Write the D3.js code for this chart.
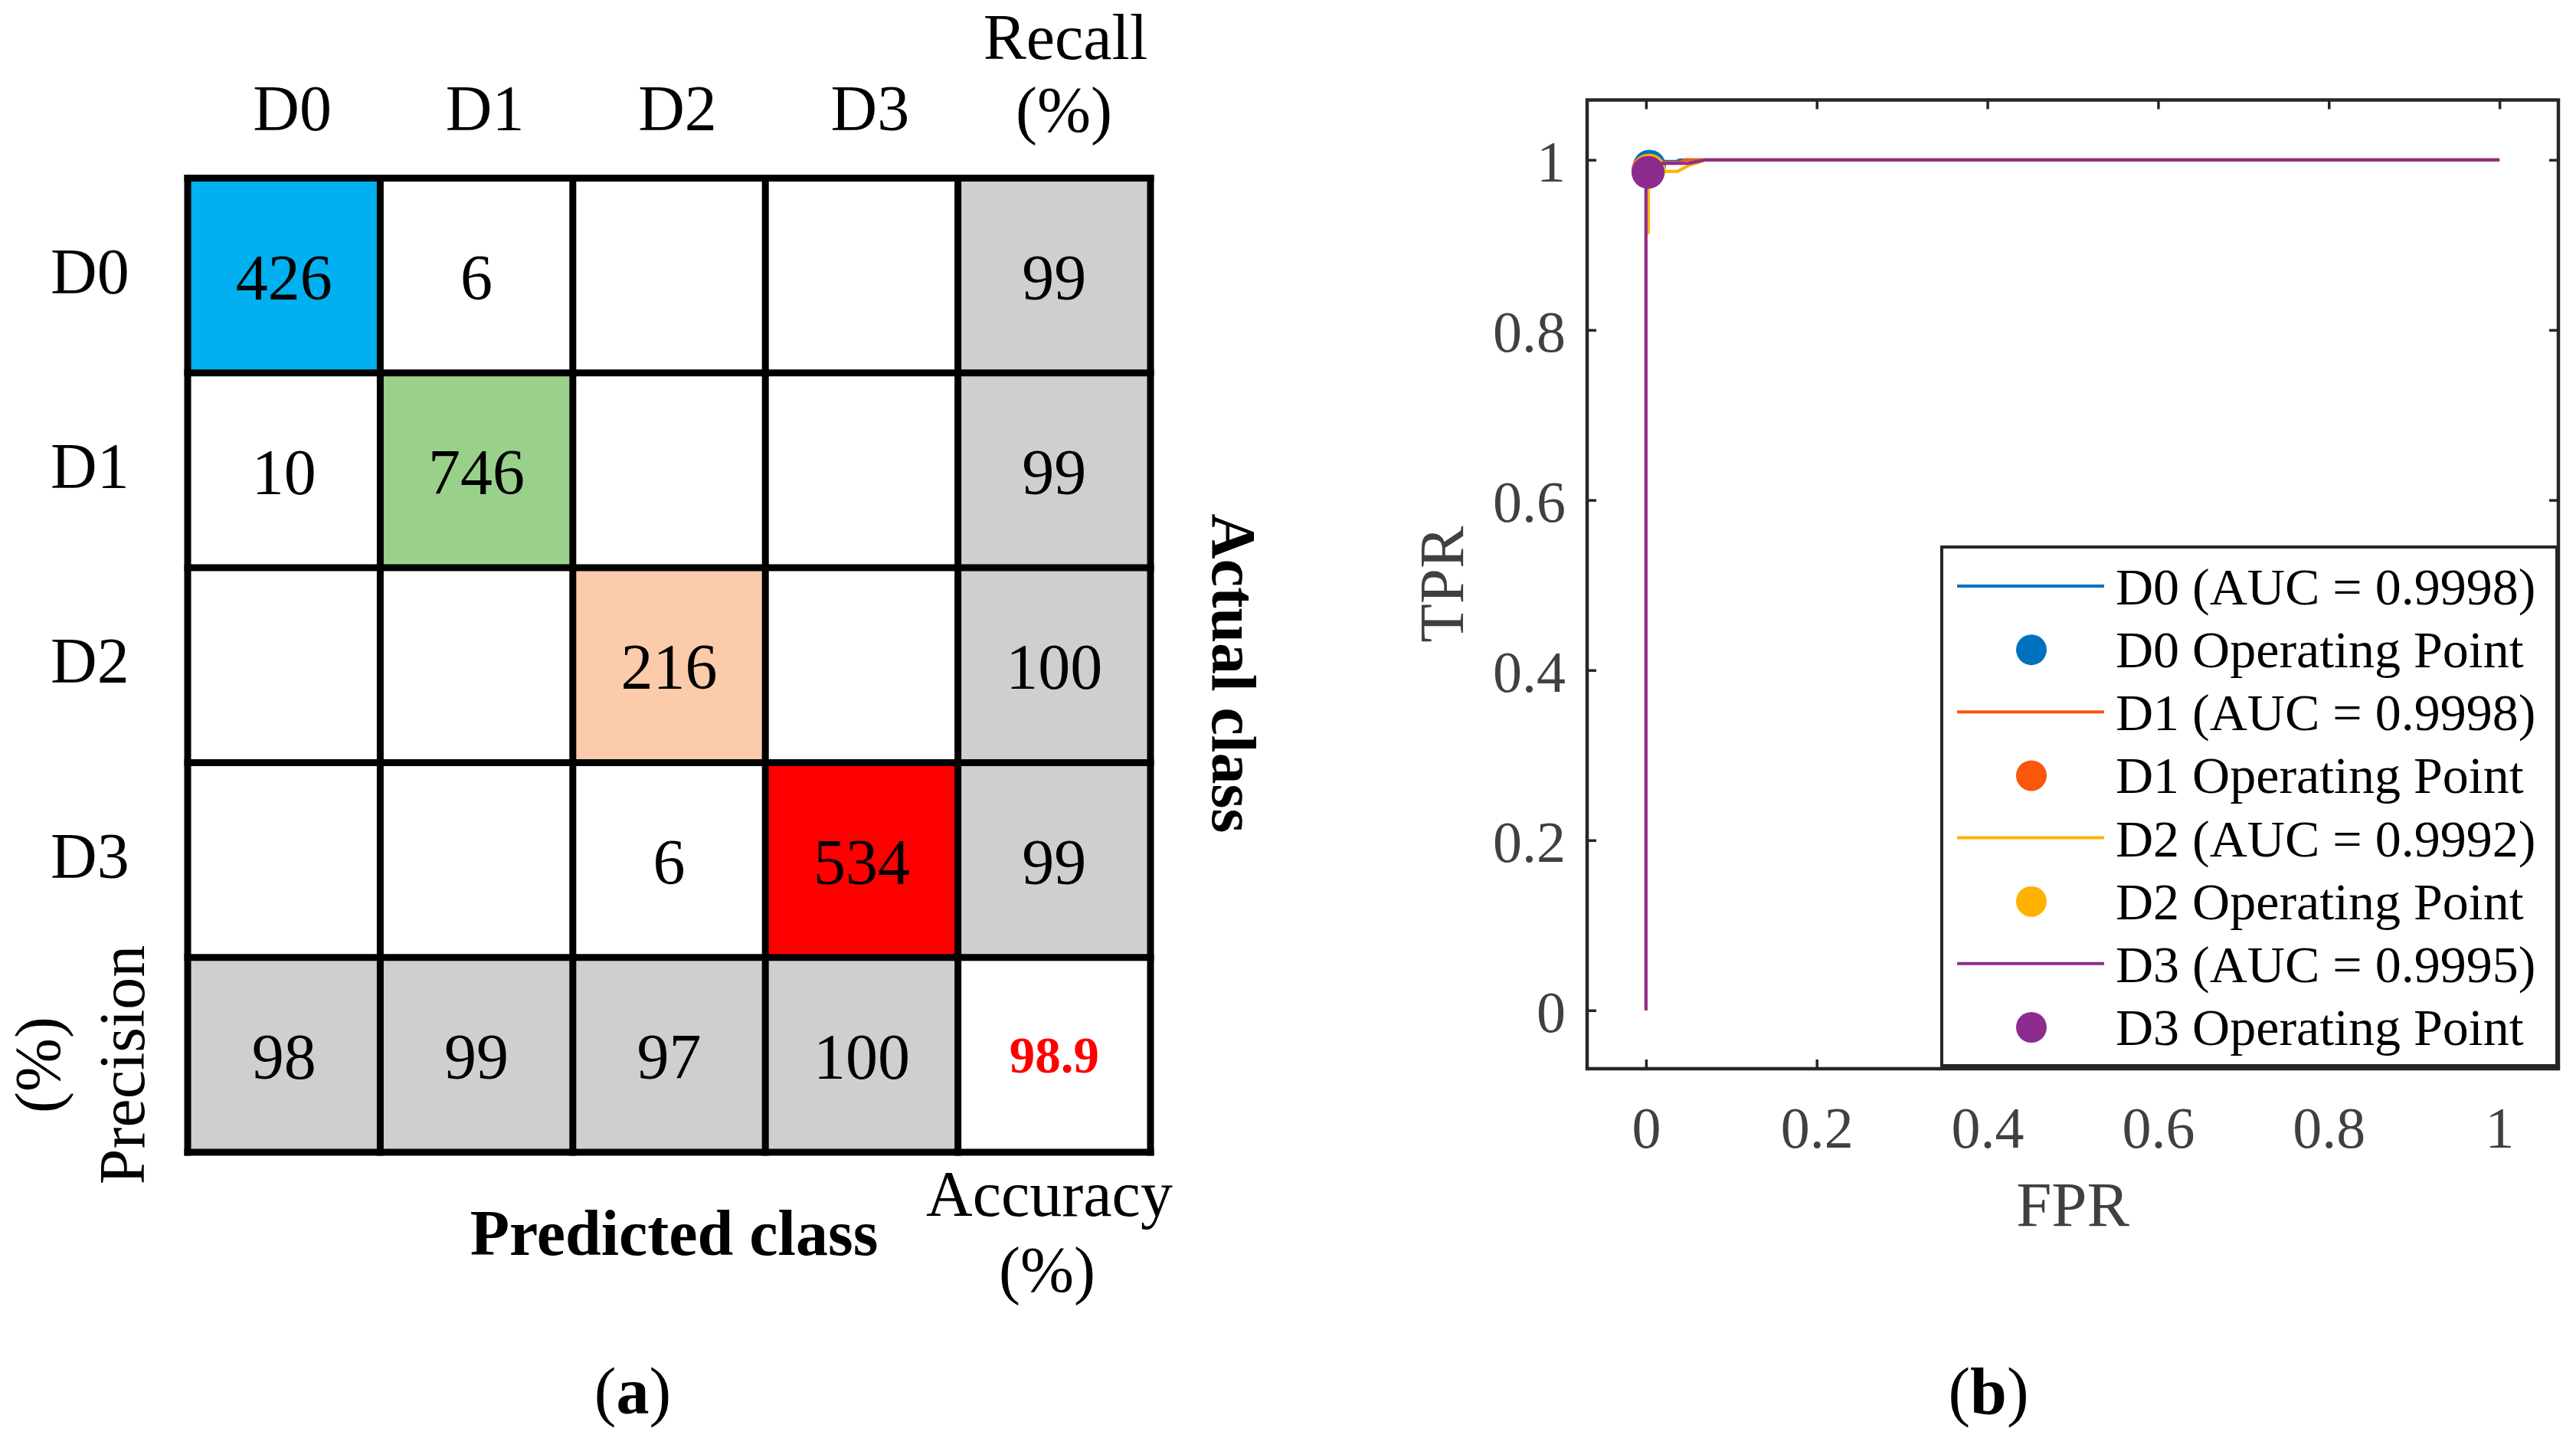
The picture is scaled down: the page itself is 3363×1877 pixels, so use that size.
<!DOCTYPE html>
<html>
<head>
<meta charset="utf-8">
<script src="https://cdn.jsdelivr.net/npm/d3@7/dist/d3.min.js"></script>
<style>
  html, body { margin: 0; padding: 0; background: #ffffff; }
  svg { display: block; }
  text { font-family: "Liberation Serif", "Times New Roman", serif; }
</style>
</head>
<body>
<script>
// ---------------- DATA ----------------
const classes = ["D0", "D1", "D2", "D3"];
const counts = [
  [426, 6, null, null],
  [10, 746, null, null],
  [null, null, 216, null],
  [null, null, 6, 534]
];
const recall = [99, 99, 100, 99];
const precision = [98, 99, 97, 100];
const accuracy = 98.9;
const diagColors = ["#00B0F0", "#99D18B", "#FBCBAB", "#FF0000"];

const rocNames = ["D0 (AUC = 0.9998)", "D1 (AUC = 0.9998)", "D2 (AUC = 0.9992)", "D3 (AUC = 0.9995)"];
const opNames = ["D0 Operating Point", "D1 Operating Point", "D2 Operating Point", "D3 Operating Point"];
const rocColors = ["#0071C1", "#FA560C", "#FFB100", "#8D2B8F"];
const fprD0 = [0, 0, 0.005, 0.035, 0.04, 1];
const tprD0 = [0, 0.992, 0.998, 0.998, 1, 1];
const fprD1 = [0, 0, 0.004, 0.04, 0.045, 1];
const tprD1 = [0, 0.987, 0.997, 0.997, 1, 1];
const fprD2 = [0, 0, 0.0027, 0.0027, 0.037, 0.052, 0.062, 0.07, 1];
const tprD2 = [0, 0.914, 0.914, 0.9865, 0.9865, 0.9943, 0.997, 1, 1];
const fprD3 = [0, 0, 0.004, 0.05, 0.07, 1];
const tprD3 = [0, 0.985, 0.9959, 0.9959, 1, 1];
const opFpr = [0.004, 0.0022, 0.0036, 0.0024];
const opTpr = [0.9925, 0.9876, 0.988, 0.9853];
const tickVals = [0, 0.2, 0.4, 0.6, 0.8, 1];

// ---------------- SVG ----------------
const W = 3363, H = 1877;
const svg = d3.select("body").append("svg").attr("width", W).attr("height", H);
svg.append("rect").attr("width", W).attr("height", H).attr("fill", "#fff");

// ============ (a) confusion matrix ============
const colKeys = classes.concat(["Recall"]);
const rowKeys = classes.concat(["Precision"]);
const cx = d3.scaleBand().domain(colKeys).range([245, 1502]);
const cy = d3.scaleBand().domain(rowKeys).range([232.5, 1504]);
const bw = cx.bandwidth(), bh = cy.bandwidth();

const cells = [];
rowKeys.forEach((r, i) => {
  colKeys.forEach((c, j) => {
    let val = null, fill = "#ffffff", color = "#000", bold = false, size = 84;
    if (i < 4 && j < 4) {
      val = counts[i][j];
      if (i === j) fill = diagColors[i];
    } else if (i < 4 && j === 4) {
      val = recall[i]; fill = "#D0CECE";
    } else if (i === 4 && j < 4) {
      val = precision[j]; fill = "#D0CECE";
    } else {
      val = accuracy; color = "#FF0000"; bold = true; size = 67;
    }
    cells.push({ r, c, val, fill, color, bold, size });
  });
});

const gA = svg.append("g");
gA.selectAll("rect.cell").data(cells).join("rect")
  .attr("class", "cell")
  .attr("x", d => cx(d.c)).attr("y", d => cy(d.r))
  .attr("width", bw).attr("height", bh)
  .attr("fill", d => d.fill);

gA.selectAll("text.val").data(cells.filter(d => d.val !== null)).join("text")
  .attr("class", "val")
  .attr("x", d => cx(d.c) + bw / 2)
  .attr("y", d => cy(d.r) + bh / 2 + (d.bold ? 23 : 31))
  .attr("text-anchor", "middle")
  .attr("font-size", d => d.size)
  .attr("font-weight", d => d.bold ? "bold" : "normal")
  .attr("fill", d => d.color)
  .text(d => d.val);

// grid lines
const xs = colKeys.map(k => cx(k)).concat([cx.range()[1]]);
const ys = rowKeys.map(k => cy(k)).concat([cy.range()[1]]);
gA.selectAll("line.v").data(xs).join("line")
  .attr("x1", d => d).attr("x2", d => d)
  .attr("y1", ys[0] - 4.5).attr("y2", ys[ys.length - 1] + 4.5)
  .attr("stroke", "#000").attr("stroke-width", 9);
gA.selectAll("line.h").data(ys).join("line")
  .attr("y1", d => d).attr("y2", d => d)
  .attr("x1", xs[0] - 4.5).attr("x2", xs[xs.length - 1] + 4.5)
  .attr("stroke", "#000").attr("stroke-width", 9);

// column headers
gA.selectAll("text.colh").data(classes).join("text")
  .attr("x", d => cx(d) + bw / 2 + 11).attr("y", 170)
  .attr("text-anchor", "middle").attr("font-size", 84).text(d => d);
// row headers
gA.selectAll("text.rowh").data(classes).join("text")
  .attr("x", 66).attr("y", d => cy(d) + bh / 2 + 23)
  .attr("text-anchor", "start").attr("font-size", 84).text(d => d);

// Recall (%)
gA.append("text").attr("x", 1391).attr("y", 77).attr("text-anchor", "middle")
  .attr("font-size", 84).text("Recall");
gA.append("text").attr("x", 1389).attr("y", 172).attr("text-anchor", "middle")
  .attr("font-size", 84).text("(%)");
// Accuracy (%)
gA.append("text").attr("x", 1370).attr("y", 1587).attr("text-anchor", "middle")
  .attr("font-size", 84).text("Accuracy");
gA.append("text").attr("x", 1367).attr("y", 1686).attr("text-anchor", "middle")
  .attr("font-size", 84).text("(%)");
// Predicted class
gA.append("text").attr("x", 880).attr("y", 1638).attr("text-anchor", "middle")
  .attr("font-size", 84).attr("font-weight", "bold").text("Predicted class");
// Actual class (rotated clockwise)
gA.append("text").attr("transform", "translate(1583,879) rotate(90)")
  .attr("text-anchor", "middle").attr("font-size", 82).attr("font-weight", "bold")
  .text("Actual class");
// Precision (%) (rotated counter-clockwise)
gA.append("text").attr("transform", "translate(188,1390) rotate(-90)")
  .attr("text-anchor", "middle").attr("font-size", 84).text("Precision");
gA.append("text").attr("transform", "translate(78,1390) rotate(-90)")
  .attr("text-anchor", "middle").attr("font-size", 84).text("(%)");

// (a)
const ta = gA.append("text").attr("x", 826).attr("y", 1845).attr("text-anchor", "middle").attr("font-size", 86);
ta.append("tspan").text("(");
ta.append("tspan").attr("font-weight", "bold").text("a");
ta.append("tspan").text(")");

// ============ (b) ROC ============
const L = 2072, R = 3340, T = 130.5, B = 1395;
const x = d3.scaleLinear().domain([-0.069, 1.069]).range([L, R]);
const y = d3.scaleLinear().domain([-0.0687, 1.0704]).range([B, T]);
const gB = svg.append("g");
const axisColor = "#262626", labColor = "#404040";

// axes with inward ticks
const tickLen = 12;
const axB = gB.append("g").attr("transform", `translate(0,${B})`)
  .call(d3.axisBottom(x).tickValues(tickVals).tickSizeInner(-tickLen).tickSizeOuter(0).tickPadding(49).tickFormat(d3.format("~g")));
const axT = gB.append("g").attr("transform", `translate(0,${T})`)
  .call(d3.axisTop(x).tickValues(tickVals).tickSizeInner(-tickLen).tickSizeOuter(0).tickFormat(""));
const axL = gB.append("g").attr("transform", `translate(${L},0)`)
  .call(d3.axisLeft(y).tickValues(tickVals).tickSizeInner(-tickLen).tickSizeOuter(0).tickPadding(28).tickFormat(d3.format("~g")));
const axR = gB.append("g").attr("transform", `translate(${R},0)`)
  .call(d3.axisRight(y).tickValues(tickVals).tickSizeInner(-tickLen).tickSizeOuter(0).tickFormat(""));
[axB, axT, axL, axR].forEach(a => {
  a.select(".domain").remove();
  a.selectAll(".tick line").attr("stroke", axisColor).attr("stroke-width", 3.5);
  a.selectAll(".tick text").attr("fill", labColor).attr("font-size", 76)
    .attr("font-family", "Liberation Serif, Times New Roman, serif");
});
axB.selectAll(".tick text").attr("dy", "0.71em");
axL.selectAll(".tick text").attr("dy", "0.37em");

// curves
const rocData = [
  fprD0.map((f, i) => [f, tprD0[i]]),
  fprD1.map((f, i) => [f, tprD1[i]]),
  fprD2.map((f, i) => [f, tprD2[i]]),
  fprD3.map((f, i) => [f, tprD3[i]])
];
const line = d3.line().x(d => x(d[0])).y(d => y(d[1]));
const gC = gB.append("g");
rocData.forEach((pts, k) => {
  gC.append("path").attr("d", line(pts)).attr("fill", "none")
    .attr("stroke", rocColors[k]).attr("stroke-width", 4).attr("stroke-linejoin", "round");
  gC.append("circle").attr("cx", x(opFpr[k])).attr("cy", y(opTpr[k])).attr("r", 21.5)
    .attr("fill", rocColors[k]);
});

// box
gB.append("rect").attr("x", L).attr("y", T).attr("width", R - L).attr("height", B - T)
  .attr("fill", "none").attr("stroke", axisColor).attr("stroke-width", 4.5);

// axis labels
gB.append("text").attr("x", (L + R) / 2).attr("y", 1600).attr("text-anchor", "middle")
  .attr("font-size", 83).attr("fill", labColor).text("FPR");
gB.append("text").attr("transform", `translate(1910,${(T + B) / 2}) rotate(-90)`)
  .attr("text-anchor", "middle").attr("font-size", 83).attr("fill", labColor).text("TPR");

// legend
const lg = gB.append("g");
const lgL = 2535, lgT = 714, lgR = 3338, lgB = 1391;
lg.append("rect").attr("x", lgL).attr("y", lgT).attr("width", lgR - lgL).attr("height", lgB - lgT)
  .attr("fill", "#fff").attr("stroke", axisColor).attr("stroke-width", 4);
const legendItems = [];
classes.forEach((c, k) => {
  legendItems.push({ type: "line", label: rocNames[k], color: rocColors[k] });
  legendItems.push({ type: "dot", label: opNames[k], color: rocColors[k] });
});
const rowY = d3.scaleLinear().domain([0, 7]).range([766, 1341]);
const li = lg.selectAll("g.item").data(legendItems).join("g")
  .attr("transform", (d, i) => `translate(0,${rowY(i)})`);
li.filter(d => d.type === "line").append("line")
  .attr("x1", 2555).attr("x2", 2747).attr("y1", -1).attr("y2", -1)
  .attr("stroke", d => d.color).attr("stroke-width", 4);
li.filter(d => d.type === "dot").append("circle")
  .attr("cx", 2652).attr("cy", 0).attr("r", 20).attr("fill", d => d.color);
li.append("text").attr("x", 2762).attr("y", 23).attr("font-size", 68).attr("fill", "#000")
  .text(d => d.label);

// (b)
const tb = gB.append("text").attr("x", 2596).attr("y", 1845).attr("text-anchor", "middle").attr("font-size", 86);
tb.append("tspan").text("(");
tb.append("tspan").attr("font-weight", "bold").text("b");
tb.append("tspan").text(")");
</script>
</body>
</html>
